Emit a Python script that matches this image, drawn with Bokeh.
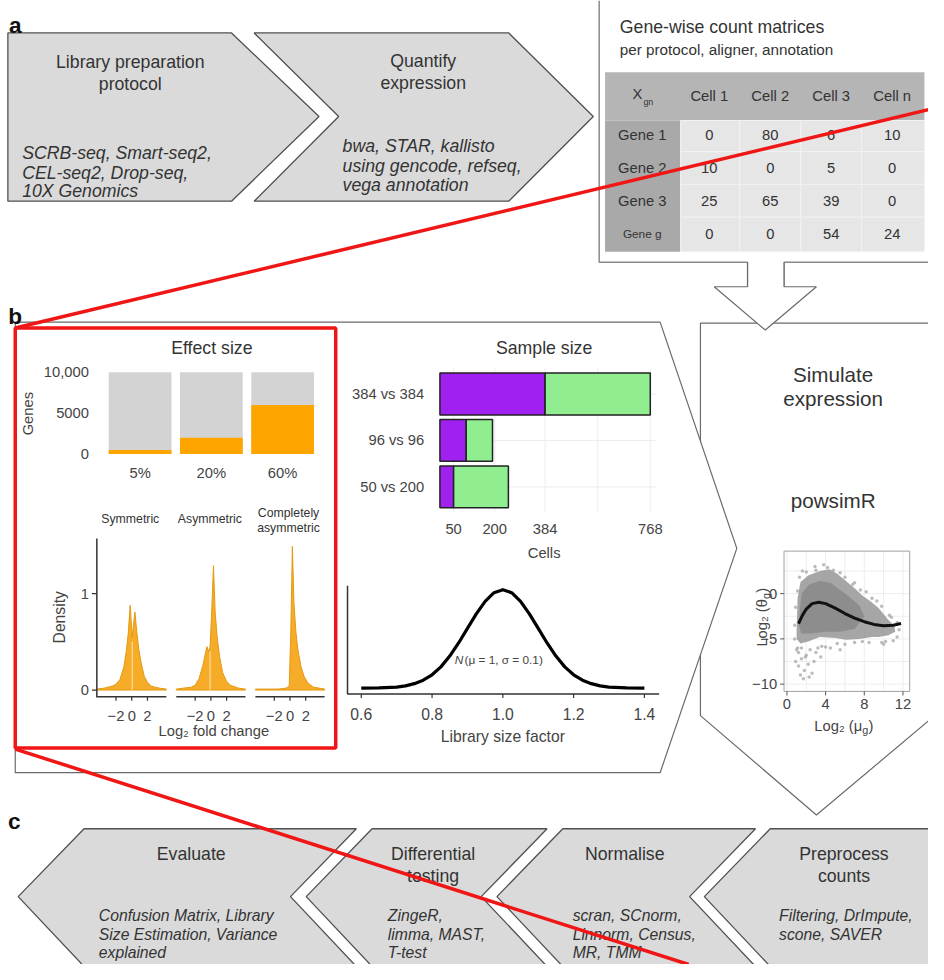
from bokeh.plotting import figure
from bokeh.models import Range1d
from bokeh.core.properties import value
from bokeh.embed import file_html
from bokeh.resources import INLINE

# ---------------- data ----------------
protocol_tools = ["SCRB-seq, Smart-seq2,", "CEL-seq2, Drop-seq,", "10X Genomics"]
quant_tools = ["bwa, STAR, kallisto", "using gencode, refseq,", "vega annotation"]

table_cells = ["Cell 1", "Cell 2", "Cell 3", "Cell n"]
table_genes = ["Gene 1", "Gene 2", "Gene 3", "Gene g"]
table_counts = [[0, 80, 6, 10],
                [10, 0, 5, 0],
                [25, 65, 39, 0],
                [0, 0, 54, 24]]

effect_labels = ["5%", "20%", "60%"]
genes_total = [10000, 10000, 10000]
genes_de = [500, 2000, 6000]
genes_ticks = [0, 5000, 10000]
genes_tick_labels = ["0", "5000", "10,000"]

fc_titles = [["Symmetric"], ["Asymmetric"], ["Completely", "asymmetric"]]
sym_x = [-4.4, -3.5, -2.5, -2.0, -1.5, -1.0, -0.7, -0.45, -0.2, 0.06, 0.4, 0.65, 0.9, 1.2, 1.6, 2.0, 2.5, 3.5, 4.4]
sym_y = [0.01, 0.02, 0.04, 0.06, 0.11, 0.24, 0.40, 0.58, 0.88, 0.55, 0.81, 0.60, 0.42, 0.28, 0.14, 0.08, 0.04, 0.02, 0.01]
asym_x = [-4.4, -3.5, -2.5, -2.0, -1.5, -1.0, -0.7, -0.5, -0.3, -0.1, 0.1, 0.33, 0.55, 0.8, 1.1, 1.5, 2.0, 2.5, 3.5, 4.4]
asym_y = [0.01, 0.02, 0.03, 0.05, 0.12, 0.26, 0.38, 0.45, 0.40, 0.45, 0.80, 1.29, 0.80, 0.55, 0.35, 0.18, 0.09, 0.05, 0.02, 0.01]
casym_x = [-4.4, -3.0, -1.5, -0.5, -0.1, 0.1, 0.3, 0.5, 0.75, 1.0, 1.4, 1.8, 2.3, 3.0, 4.4]
casym_y = [0.01, 0.01, 0.01, 0.02, 0.04, 0.60, 1.49, 0.90, 0.60, 0.42, 0.24, 0.14, 0.07, 0.03, 0.01]
fc_ticks = [-2, 0, 2]
fc_tick_labels = ["\u22122", "0", "2"]
density_ticks = [0, 1]

sample_labels = ["384 vs 384", "96 vs 96", "50 vs 200"]
group1 = [384, 96, 50]
group2 = [384, 96, 200]
cells_ticks = [50, 200, 384, 768]

lib_x = [0.60, 0.65, 0.70, 0.725, 0.75, 0.775, 0.80, 0.825, 0.85, 0.875, 0.90, 0.925, 0.95, 0.975, 1.00,
         1.025, 1.05, 1.075, 1.10, 1.125, 1.15, 1.175, 1.20, 1.225, 1.25, 1.275, 1.30, 1.35, 1.40]
lib_y = [0.00, 0.01, 0.04, 0.09, 0.18, 0.32, 0.54, 0.86, 1.30, 1.83, 2.42, 3.01, 3.52, 3.87, 3.99,
         3.87, 3.52, 3.01, 2.42, 1.83, 1.30, 0.86, 0.54, 0.32, 0.18, 0.09, 0.04, 0.01, 0.00]
lib_ticks = [0.6, 0.8, 1.0, 1.2, 1.4]
lib_tick_labels = ["0.6", "0.8", "1.0", "1.2", "1.4"]

mean_ticks = [0, 4, 8, 12]
disp_ticks = [0, -5, -10]
disp_tick_labels = ["0", "\u22125", "\u221210"]
cloud_x = [1.0, 1.1, 1.4, 2.2, 3.4, 4.4, 5.2, 6.1, 7.0, 7.8, 8.7, 9.5, 10.5, 11.1, 11.2, 10.5, 9.5, 8.8, 7.5, 6.1, 5.0, 3.4, 2.2, 1.4, 1.0]
cloud_y = [-4.0, -0.5, 1.3, 2.0, 2.5, 2.7, 2.2, 1.4, 0.6, -0.2, -0.9, -1.6, -2.9, -3.5, -4.2, -4.6, -4.8, -4.8, -5.0, -5.1, -4.9, -4.8, -5.3, -5.5, -5.0]
core_x = [1.2, 1.5, 2.3, 3.4, 4.5, 5.5, 6.5, 7.5, 8.0, 7.0, 5.5, 4.0, 2.5, 1.5]
core_y = [-3.5, 0.0, 1.0, 1.4, 1.2, 0.4, -0.4, -1.3, -2.5, -3.9, -4.2, -4.2, -4.4, -4.4]
out_x = [1.2, 1.5, 1.8, 2.2, 2.6, 1.4, 2.0, 3.0, 3.5, 2.8, 0.9, 1.2, 4.5, 6.0, 8.5, 10.2, 11.0,
         1.6, 2.9, 4.2, 5.5, 7.0, 8.2, 9.3, 10.6, 3.6, 5.2, 1.1, 2.4, 7.8, 9.8,
         1.3, 2.0, 3.0, 3.8, 4.8, 6.0, 6.8, 7.6, 8.8, 9.8, 10.8, 11.4, 11.6, 11.4, 10.0, 7.0, 5.5,
         4.0, 3.2, 1.0, 0.8, 0.8, 0.9, 1.1, 1.7, 2.3, 1.9, 1.5]
out_y = [-6.5, -7.2, -8.5, -7.8, -8.8, -9.0, -6.8, -6.5, -7.0, -7.5, -7.5, -8.0, -6.0, -5.6, -5.4, -5.3, -5.2,
         2.5, 3.0, 2.9, 2.3, 1.2, 0.2, -0.8, -2.4, -5.8, -5.5, -6.0, -6.2, -5.3, -5.4,
         1.8, 2.4, 2.6, 3.2, 2.6, 1.8, 1.0, 0.4, -0.5, -1.4, -2.6, -3.2, -4.0, -4.8, -5.6, -5.4, -6.2,
         -5.9, -6.0, -6.2, -5.0, -3.5, -1.5, 0.3, -9.4, -9.2, -7.0, -6.0]
trend_x = [1.2, 1.6, 2.0, 2.6, 3.3, 4.0, 5.0, 6.0, 7.0, 8.0, 9.0, 10.0, 11.0, 11.8]
trend_y = [-3.3, -2.4, -1.7, -1.1, -0.95, -1.1, -1.6, -2.2, -2.7, -3.1, -3.4, -3.55, -3.5, -3.3]

steps_c = ["Evaluate", "Differential|testing", "Normalise", "Preprocess|counts"]
tools_c = [["Confusion Matrix, Library", "Size Estimation, Variance", "explained"],
           ["ZingeR,", "limma, MAST,", "T-test"],
           ["scran, SCnorm,", "Linnorm, Census,", "MR, TMM"],
           ["Filtering, DrImpute,", "scone, SAVER"]]

# ---------------- canvas ----------------
W, H = 928, 964          # figure size (fits the 944x980 window with 8px margins)
RW, RH = 944, 980        # layout coordinate space (reference pixels)
S = W / RW               # uniform scale for font sizes
FONT = "Liberation Sans"
TC = "#333333"
AC = "#444444"

XR, YR = {}, {}
def xr(name, d0, d1, px0, px1):
    b = (d1 - d0) / (px1 - px0)
    XR[name] = Range1d(start=d0 + (0 - px0) * b, end=d0 + (RW - px0) * b)
def yr(name, d0, d1, py0, py1):
    b = (d1 - d0) / (py1 - py0)
    YR[name] = Range1d(start=d0 + (RH - py0) * b, end=d0 + (0 - py0) * b)

xr("tab", 0, 3, 721, 907); yr("tab", 0, 3, 137, 237)
xr("es", 1, 3, 142, 287); yr("es", 0, 10000, 461, 378)
xr("d0", 0, 2, 133.5, 149.5); xr("d1", 0, 2, 214, 230); xr("d2", 0, 2, 294.5, 310.5)
yr("dens", 0, 1, 701, 603)
xr("ss", 0, 768, 447, 661); yr("ss", 3, 1, 400, 494.5)
xr("lib", 0.6, 1.4, 367, 655); yr("lib", 0, 3.99, 699, 599)
xr("sc", 0, 12, 800, 918); yr("sc", 0, -10, 603, 695)

p = figure(width=W, height=H, x_range=Range1d(0, RW), y_range=Range1d(RH, 0),
           output_backend="svg", toolbar_location=None, x_axis_type=None, y_axis_type=None,
           min_border=0, title=None)
p.extra_x_ranges = XR
p.extra_y_ranges = YR
p.outline_line_color = None
p.background_fill_color = "white"
p.border_fill_color = "white"

def T(x, y, s, size=16, align="center", color=TC, style="normal", angle=0, baseline="middle", xn=None, yn=None):
    xs = list(x) if isinstance(x, (list, tuple)) else [x]
    ys = list(y) if isinstance(y, (list, tuple)) else [y]
    ss = list(s) if isinstance(s, (list, tuple)) else [s]
    n = max(len(xs), len(ys), len(ss))
    xs = xs * n if len(xs) == 1 else xs
    ys = ys * n if len(ys) == 1 else ys
    ss = ss * n if len(ss) == 1 else ss
    kw = {}
    if xn: kw["x_range_name"] = xn
    if yn: kw["y_range_name"] = yn
    p.text(x=xs, y=ys, text=ss, text_font=value(FONT), text_font_size=f"{size * S:.2f}px", text_align=align,
           text_baseline=baseline, text_color=color, text_font_style=style, angle=angle, **kw)

# ---------------- panel a ----------------
CHEV_FILL = "#dadada"
CHEV_LINE = "#505050"
p.patch([7.5, 235, 324, 235, 7.5], [33, 33, 118, 204, 204], fill_color=CHEV_FILL, line_color=CHEV_LINE, line_width=1.3)
p.patch([258, 517, 603, 517, 258, 344], [33, 33, 118, 204, 204, 118], fill_color=CHEV_FILL, line_color=CHEV_LINE, line_width=1.3)
T(15, 25, "a", size=23, style="bold", color="#111111", baseline="alphabetic")
T(132, [63, 85], ["Library preparation", "protocol"], size=18)
T(22, [155, 175, 194], protocol_tools, size=18, style="italic", align="left")
T(430, [62, 84], ["Quantify", "expression"], size=18)
T(348, [148, 168, 188], quant_tools, size=18, style="italic", align="left")

# count-matrix box
BOX = "#8a8a8a"
p.line([609, 609, 760, 760], [0, 266, 266, 291], line_color=BOX, line_width=1.5)
p.line([797, 797, 960], [291, 266, 266], line_color=BOX, line_width=1.5)
T(630, 27, "Gene-wise count matrices", size=18, align="left")
T(630, 50, "per protocol, aligner, annotation", size=15.5, align="left")
# table
p.quad(left=-1.71, right=3.53, top=-1.92, bottom=-0.45, x_range_name="tab", y_range_name="tab",
       fill_color="#b5b5b5", line_color=None)
p.quad(left=-1.71, right=-0.47, top=-0.45, bottom=3.55, x_range_name="tab", y_range_name="tab",
       fill_color="#a9a9a9", line_color=None)
cl, cr, ct, cb = [], [], [], []
for r in range(4):
    for c in range(4):
        cl.append(c - 0.5 if c > 0 else -0.47); cr.append(c + 0.5 if c < 3 else 3.53)
        ct.append(r - 0.5 if r > 0 else -0.45); cb.append(r + 0.5 if r < 3 else 3.55)
p.quad(left=cl, right=cr, top=ct, bottom=cb, x_range_name="tab", y_range_name="tab",
       fill_color="#e6e6e6", line_color="#f2f2f2", line_width=1)
T(list(range(4)), -1.2, table_cells, size=15, xn="tab", yn="tab")
T(-1.1, [0, 1, 2], table_genes[:3], size=15, xn="tab", yn="tab")
T(-1.1, 3, table_genes[3], size=12, xn="tab", yn="tab")
vx, vy, vs = [], [], []
for r, row in enumerate(table_counts):
    for c, v in enumerate(row):
        vx.append(c); vy.append(r); vs.append(str(v))
T(vx, vy, vs, size=15, xn="tab", yn="tab")
T(648, 95, "X", size=15)
T(654, 103, "gn", size=9, align="left")

# ---------------- panel b frames ----------------
FR = "#6a6a6a"
p.patch([712, 948, 948, 830, 712], [328, 328, 729, 828, 727], fill_color="white", line_color=FR, line_width=1.2)
p.patch([15, 671, 749, 671, 15], [327, 327, 557, 785, 785], fill_color="white", line_color=FR, line_width=1.2)
ax = [760, 760, 726, 778, 830, 797, 797]
ay = [266, 291, 291, 335, 291, 291, 266]
p.patch(ax, ay, fill_color="white", line_color=None)
p.line(ax, ay, line_color=FR, line_width=1.2)
T(15, 321, "b", size=23, style="bold", color="#111111", baseline="alphabetic")

# Effect size
T(215, 353, "Effect size", size=18)
p.vbar(x=[1, 2, 3], width=0.88, top=genes_total, bottom=0, x_range_name="es", y_range_name="es",
       fill_color="#d3d3d3", line_color=None)
p.vbar(x=[1, 2, 3], width=0.88, top=genes_de, bottom=0, x_range_name="es", y_range_name="es",
       fill_color="#ffa500", line_color=None)
T(90, genes_ticks, genes_tick_labels, size=15, align="right", color=AC, yn="es")
T([1, 2, 3], 480, effect_labels, size=15, color=AC, xn="es")
T(28, 420, "Genes", size=15, angle=1.5708, color=AC)

# Fold change densities
OR_F, OR_L = "#f6a81c", "#e39a10"
for i, (fx, fy) in enumerate([(sym_x, sym_y), (asym_x, asym_y), (casym_x, casym_y)]):
    n = f"d{i}"
    p.patch([fx[0]] + fx + [fx[-1]], [0] + fy + [0], x_range_name=n, y_range_name="dens",
            fill_color=OR_F, fill_alpha=0.95, line_color=OR_L, line_width=1)
    p.line([fx[0], fx[-1]], [-0.07, -0.07], x_range_name=n, y_range_name="dens", line_color="#333333", line_width=1.5)
    p.segment(x0=fc_ticks, y0=-0.07, x1=fc_ticks, y1=-0.11, x_range_name=n, y_range_name="dens",
              line_color="#333333", line_width=1.2)
    T(fc_ticks, 727, fc_tick_labels, size=15, color=AC, xn=n)
p.segment(x0=0.06, y0=0.0, x1=0.06, y1=0.5, x_range_name="d0", y_range_name="dens", line_color="#ffe6b0", line_width=1)
p.segment(x0=-0.1, y0=0.0, x1=-0.1, y1=0.4, x_range_name="d1", y_range_name="dens", line_color="#ffe6b0", line_width=1)
T(132, 527, fc_titles[0][0], size=12.5)
T(213, 527, fc_titles[1][0], size=12.5)
T(293, [521, 536], fc_titles[2], size=12.5)
p.line([98, 98], [547, 708.5], line_color="#333333", line_width=1.5)
p.segment(x0=93, y0=density_ticks, x1=98, y1=density_ticks, y_range_name="dens", line_color="#333333", line_width=1.2)
T(90, density_ticks, ["0", "1"], size=15, align="right", color=AC, yn="dens")
T(60, 627, "Density", size=16, angle=1.5708, color=AC)
T(217, 743, "Log\u2082 fold change", size=15, color=AC)

# Sample size
T(553, 353, "Sample size", size=18)
GR = "#ececec"
p.segment(x0=cells_ticks + [576], y0=0.45, x1=cells_ticks + [576], y1=3.55, x_range_name="ss", y_range_name="ss",
          line_color=GR, line_width=1)
p.segment(x0=0, y0=[1, 2, 3], x1=790, y1=[1, 2, 3], x_range_name="ss", y_range_name="ss", line_color=GR, line_width=1)
tot = [a + b for a, b in zip(group1, group2)]
p.hbar(y=[3, 2, 1], height=0.9, left=0, right=group1, x_range_name="ss", y_range_name="ss",
       fill_color="#a020f0", line_color="#222222", line_width=1.5)
p.hbar(y=[3, 2, 1], height=0.9, left=group1, right=tot, x_range_name="ss", y_range_name="ss",
       fill_color="#90ee90", line_color="#222222", line_width=1.5)
T(431, [3, 2, 1], sample_labels, size=15, align="right", color=AC, yn="ss")
T(cells_ticks, 537, [str(c) for c in cells_ticks], size=15, color=AC, xn="ss")
T(553, 562, "Cells", size=15, color=AC)

# Library size factor
p.line([353, 353, 670], [595, 705, 705], line_color="#333333", line_width=1.5)
p.segment(x0=lib_ticks, y0=705, x1=lib_ticks, y1=709, x_range_name="lib", line_color="#333333", line_width=1.2)
p.line(lib_x, lib_y, x_range_name="lib", y_range_name="lib", line_color="black", line_width=3.2, line_join="round")
T(lib_ticks, 725, lib_tick_labels, size=16, color=AC, xn="lib")
T(511, 748, "Library size factor", size=16, color=AC)
T(462, 670, "N", size=12, style="italic", align="left", color=AC)
T(472, 670, "(\u03bc = 1, \u03c3 = 0.1)", size=12, align="left", color=AC)

# Simulate expression
T(847, 380, "Simulate", size=21)
T(847, 405, "expression", size=21)
T(847, 508, "powsimR", size=21)
p.quad(left=-0.3, right=12.7, top=4.7, bottom=-10.8, x_range_name="sc", y_range_name="sc",
       fill_color="white", line_color=None)
p.segment(x0=[0, 2, 4, 6, 8, 10, 12], y0=4.7, x1=[0, 2, 4, 6, 8, 10, 12], y1=-10.8,
          x_range_name="sc", y_range_name="sc", line_color="#ededed", line_width=1)
p.segment(x0=-0.3, y0=[2.5, 0, -2.5, -5, -7.5, -10], x1=12.7, y1=[2.5, 0, -2.5, -5, -7.5, -10],
          x_range_name="sc", y_range_name="sc", line_color="#ededed", line_width=1)
p.scatter(out_x, out_y, x_range_name="sc", y_range_name="sc", size=3.5, fill_color="#adadad",
          line_color=None, fill_alpha=0.8)
p.patch(cloud_x, cloud_y, x_range_name="sc", y_range_name="sc", fill_color="#969696", fill_alpha=0.85, line_color=None)
p.patch(core_x, core_y, x_range_name="sc", y_range_name="sc", fill_color="#6e6e6e", fill_alpha=0.45, line_color=None)
p.line(trend_x, trend_y, x_range_name="sc", y_range_name="sc", line_color="#111111", line_width=3, line_join="round")
p.quad(left=-0.3, right=12.7, top=4.7, bottom=-10.8, x_range_name="sc", y_range_name="sc",
       fill_color=None, line_color="#a0a0a0", line_width=1)
p.segment(x0=mean_ticks, y0=-10.8, x1=mean_ticks, y1=-11.25, x_range_name="sc", y_range_name="sc",
          line_color="#555555", line_width=1)
p.segment(x0=-0.3, y0=disp_ticks, x1=-0.7, y1=disp_ticks, x_range_name="sc", y_range_name="sc",
          line_color="#555555", line_width=1)
T(mean_ticks, 715, [str(t) for t in mean_ticks], size=15, color=AC, xn="sc")
T(790, disp_ticks, disp_tick_labels, size=15, align="right", color=AC, yn="sc")
T(876.5, 738, "Log\u2082 (\u03bc", size=15, align="right", color=AC)
T(876.5, 742, "g", size=11, align="left", color=AC)
T(883, 738, ")", size=15, align="left", color=AC)
T(775, 608.5, "Log\u2082 (\u03b8", size=15, align="right", angle=1.5708, color=AC)
T(779, 608.5, "g", size=11, align="left", angle=1.5708, color=AC)
T(775, 602, ")", size=15, align="left", angle=1.5708, color=AC)

# ---------------- panel c ----------------
T(14, 835, "c", size=23, style="bold", color="#111111", baseline="alphabetic")
d = 67
shapes = [(85, 362), (378, 556), (572, 768), (783, 960)]
for k, (tl, tr) in enumerate(shapes):
    xs = [tl, tr, tr - d, tr, tl, tl - d]
    if k == 3:
        xs = [tl, tr, tr, tr, tl, tl - d]
    p.patch(xs, [842, 842, 911, 982, 982, 911], fill_color=CHEV_FILL, line_color=CHEV_LINE, line_width=1.3)
title_cx = [194, 440, 635, 858]
tool_lx = [100, 394, 582, 792]
for k in range(4):
    lines = steps_c[k].split("|")
    T(title_cx[k], [868, 890][:len(lines)], lines, size=18)
    T(tool_lx[k], [930, 949, 968][:len(tools_c[k])], tools_c[k], size=16, style="italic", align="left")

# ---------------- red zoom indicator ----------------
RED = "#f01616"
p.line([15, 944], [333, 111], line_color=RED, line_width=3.5)
p.line([15, 700], [761, 980], line_color=RED, line_width=3.5)
p.quad(left=15, right=341, top=333, bottom=760, fill_color=None, line_color=RED, line_width=3.5)

open("out.html", "w").write(file_html(p, INLINE))
